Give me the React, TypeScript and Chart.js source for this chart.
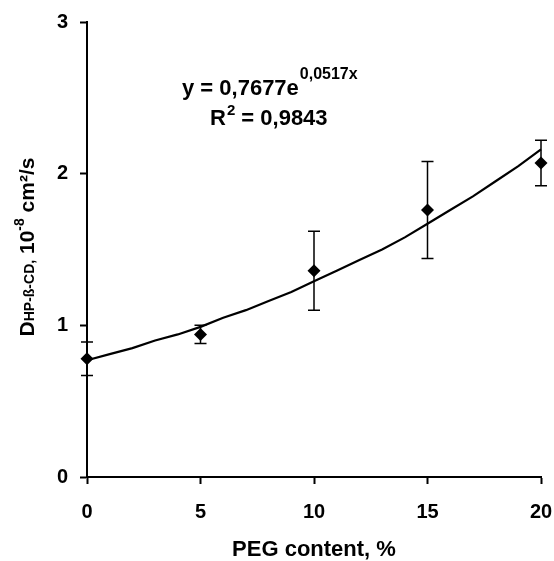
import React, { useEffect, useRef } from 'react';
import { Chart, registerables } from 'chart.js';

Chart.register(...registerables);

// ---- data ----
const PEG_CONTENT = [0, 5, 10, 15, 20];
const D_VALUES = [0.78, 0.94, 1.36, 1.76, 2.07];
const D_ERRORS = [0.11, 0.06, 0.26, 0.32, 0.15];

const TREND_X = [0, 1, 2, 3, 4, 5, 6, 7, 8, 9, 10, 11, 12, 13, 14, 15, 16, 17, 18, 19, 20];
const TREND_Y = [0.77, 0.81, 0.85, 0.9, 0.94, 0.99, 1.05, 1.1, 1.16, 1.22, 1.29, 1.36, 1.43, 1.5, 1.58, 1.67, 1.76, 1.85, 1.95, 2.05, 2.16];

const X_TICKS = [0, 5, 10, 15, 20];
const Y_TICKS = [0, 1, 2, 3];

const X_TITLE = 'PEG content, %';
const EQ_MAIN = 'y = 0,7677e';
const EQ_EXP = '0,0517x';
const R2_MAIN = 'R';
const R2_SUP = '2';
const R2_REST = ' = 0,9843';

const FONT = '"Liberation Sans", Arial, Helvetica, sans-serif';

const errorBarPlugin = {
  id: 'errorBars',
  afterDatasetsDraw(chart: any) {
    const { ctx, scales } = chart;
    const x = scales.x;
    const y = scales.y;
    ctx.save();
    ctx.strokeStyle = '#000';
    ctx.lineWidth = 1.5;
    PEG_CONTENT.forEach((v, i) => {
      const cx = x.getPixelForValue(v);
      const top = y.getPixelForValue(D_VALUES[i] + D_ERRORS[i]);
      const bot = y.getPixelForValue(D_VALUES[i] - D_ERRORS[i]);
      ctx.beginPath();
      ctx.moveTo(cx, top);
      ctx.lineTo(cx, bot);
      ctx.moveTo(cx - 6, top);
      ctx.lineTo(cx + 6, top);
      ctx.moveTo(cx - 6, bot);
      ctx.lineTo(cx + 6, bot);
      ctx.stroke();
    });
    ctx.restore();
  },
};

const textPlugin = {
  id: 'texts',
  afterDraw(chart: any) {
    const { ctx, chartArea } = chart;
    ctx.save();
    ctx.fillStyle = '#000';
    ctx.textBaseline = 'alphabetic';

    // X axis title
    ctx.font = `bold 22px ${FONT}`;
    ctx.textAlign = 'center';
    ctx.fillText(X_TITLE, (chartArea.left + chartArea.right) / 2, 556);

    // Y axis title (rotated, rich text)
    ctx.textAlign = 'left';
    const segs = [
      { t: 'D', s: 21, dy: 0 },
      { t: 'HP-ß-CD,', s: 14, dy: 0 },
      { t: ' 10', s: 21, dy: 0 },
      { t: '-8', s: 14, dy: -10 },
      { t: ' cm²/s', s: 21, dy: 0 },
    ];
    let total = 0;
    segs.forEach((sg) => {
      ctx.font = `bold ${sg.s}px ${FONT}`;
      total += ctx.measureText(sg.t).width;
    });
    ctx.translate(34, 247);
    ctx.rotate(-Math.PI / 2);
    let px = -total / 2;
    segs.forEach((sg) => {
      ctx.font = `bold ${sg.s}px ${FONT}`;
      ctx.fillText(sg.t, px, sg.dy);
      px += ctx.measureText(sg.t).width;
    });
    ctx.setTransform(1, 0, 0, 1, 0, 0);

    // Equation
    ctx.font = `bold 22px ${FONT}`;
    ctx.fillText(EQ_MAIN, 182, 95);
    const w1 = ctx.measureText(EQ_MAIN).width;
    ctx.font = `bold 16px ${FONT}`;
    ctx.fillText(EQ_EXP, 182 + w1 + 1, 79);

    ctx.font = `bold 22px ${FONT}`;
    ctx.fillText(R2_MAIN, 210, 125);
    const wr = ctx.measureText(R2_MAIN).width;
    ctx.font = `bold 15px ${FONT}`;
    ctx.fillText(R2_SUP, 210 + wr + 1, 115);
    const ws = ctx.measureText(R2_SUP).width;
    ctx.font = `bold 22px ${FONT}`;
    ctx.fillText(R2_REST, 210 + wr + 1 + ws, 125);

    ctx.restore();
  },
};

export default function App() {
  const ref = useRef<HTMLCanvasElement | null>(null);

  useEffect(() => {
    const canvas = ref.current;
    if (!canvas) return;
    const chart = new Chart(canvas, {
      type: 'scatter',
      data: {
        datasets: [
          {
            label: 'trend',
            data: TREND_X.map((x, i) => ({ x, y: TREND_Y[i] })),
            showLine: true,
            borderColor: '#000',
            borderWidth: 2.2,
            pointRadius: 0,
            tension: 0,
            clip: false,
          } as any,
          {
            label: 'D',
            data: PEG_CONTENT.map((x, i) => ({ x, y: D_VALUES[i] })),
            showLine: false,
            pointStyle: 'rectRot',
            pointRadius: 6.5,
            pointBackgroundColor: '#000',
            pointBorderColor: '#000',
            pointBorderWidth: 0,
            clip: false,
          } as any,
        ],
      },
      options: {
        animation: false,
        responsive: false,
        devicePixelRatio: 1,
        layout: { padding: { top: 22, right: 13, left: 0, bottom: 0 } },
        plugins: {
          legend: { display: false },
          tooltip: { enabled: false },
          title: { display: false },
        },
        scales: {
          x: {
            type: 'linear',
            min: 0,
            max: 20,
            afterFit: (s: any) => {
              s.height = 84;
              s.paddingLeft = 0;
              s.paddingRight = 0;
            },
            afterBuildTicks: (s: any) => {
              s.ticks = X_TICKS.map((v) => ({ value: v }));
            },
            ticks: {
              color: '#000',
              font: { family: FONT, size: 20, weight: 'bold' },
              padding: 16,
              maxRotation: 0,
              callback: (v: any) => String(v),
            },
            grid: {
              drawOnChartArea: false,
              drawTicks: true,
              tickLength: 7,
              tickColor: '#000',
              tickWidth: 2,
              color: '#000',
            },
            border: { display: true, color: '#000', width: 2 },
          },
          y: {
            type: 'linear',
            min: 0,
            max: 3,
            afterFit: (s: any) => {
              s.width = 87;
              s.paddingTop = 0;
              s.paddingBottom = 0;
            },
            afterBuildTicks: (s: any) => {
              s.ticks = Y_TICKS.map((v) => ({ value: v }));
            },
            ticks: {
              color: '#000',
              font: { family: FONT, size: 20, weight: 'bold' },
              padding: 12,
              callback: (v: any) => String(v),
            },
            grid: {
              drawOnChartArea: false,
              drawTicks: true,
              tickLength: 7,
              tickColor: '#000',
              tickWidth: 2,
              color: '#000',
            },
            border: { display: true, color: '#000', width: 2 },
          },
        },
      } as any,
      plugins: [errorBarPlugin, textPlugin],
    });
    return () => chart.destroy();
  }, []);

  return (
    <div style={{ position: 'absolute', left: 0, top: 0, width: 554, height: 561, background: '#fff' }}>
      <canvas ref={ref} width={554} height={561} style={{ display: 'block', width: 554, height: 561 }} />
    </div>
  );
}
